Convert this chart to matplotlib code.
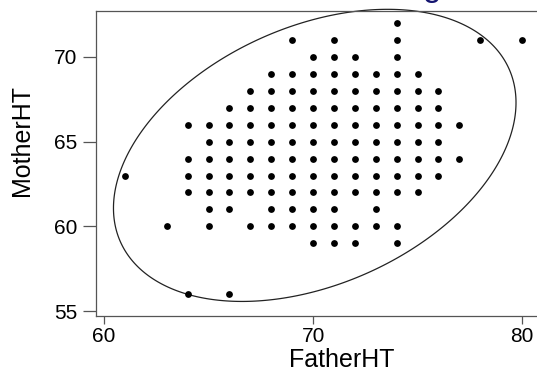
import numpy as np
import matplotlib
matplotlib.use("Agg")
import matplotlib.pyplot as plt
from matplotlib.patches import Polygon

plt.rcParams['font.family'] = ['Liberation Sans', 'DejaVu Sans']

# mother's height (inches) for each row of dots, and the fathers' heights on that row
mother_rows = [72, 71, 70, 69, 68, 67, 66, 65, 64, 63, 62, 61, 60, 59, 56]
father_by_row = [
    [74],
    [69, 71, 74, 78, 80],
    [70, 71, 72, 74],
    [68, 69, 70, 71, 72, 73, 74, 75],
    [67, 68, 69, 70, 71, 72, 73, 74, 75, 76],
    [66, 67, 68, 69, 70, 71, 72, 73, 74, 75, 76],
    [64, 65, 66, 67, 68, 69, 70, 71, 72, 73, 74, 75, 76, 77],
    [65, 66, 67, 68, 69, 70, 71, 72, 73, 74, 75, 76],
    [64, 65, 66, 67, 68, 69, 70, 71, 72, 73, 74, 75, 76, 77],
    [61, 64, 65, 66, 67, 68, 69, 70, 71, 72, 73, 74, 75, 76],
    [64, 65, 66, 67, 68, 69, 70, 71, 72, 73, 74, 75],
    [65, 66, 68, 69, 70, 71, 73],
    [63, 65, 67, 68, 69, 70, 71, 72, 73, 74],
    [70, 71, 72, 74],
    [64, 66],
]

# density ellipse: centre and covariance (father, mother)
ellipse_center = [70.08, 64.19]
ellipse_cov = [[92.7, 30.0],
               [30.0, 74.3]]

x_ticks = [60, 70, 80]
y_ticks = [55, 60, 65, 70]

father = []
mother = []
for m, row in zip(mother_rows, father_by_row):
    father.extend(row)
    mother.extend([m] * len(row))

fig = plt.figure(figsize=(5.37, 3.71), dpi=100)
ax = fig.add_axes([0.1797, 0.1482, 0.8315, 0.8221])

ax.scatter(father, mother, s=24, color='black', linewidths=0, zorder=3)

# ellipse outline from the covariance
t = np.linspace(0, 2 * np.pi, 400, endpoint=False)
L = np.linalg.cholesky(np.array(ellipse_cov))
pts = L @ np.vstack([np.cos(t), np.sin(t)])
outline = np.column_stack([pts[0] + ellipse_center[0], pts[1] + ellipse_center[1]])
ax.add_patch(Polygon(outline, closed=True, fill=False, edgecolor='#222222',
                     lw=0.9, clip_on=False, zorder=2))

ax.set_xlim(59.64, 81.0)
ax.set_ylim(54.71, 72.71)
ax.set_xticks(x_ticks)
ax.set_yticks(y_ticks)

for side in ['left', 'bottom', 'top', 'right']:
    ax.spines[side].set_color('#555555')
    ax.spines[side].set_linewidth(0.9)

ax.tick_params(axis='x', length=5.8, width=0.9, color='#555555', pad=2, labelsize=15)
ax.tick_params(axis='y', length=9.4, width=0.9, color='#555555', pad=4.5, labelsize=15)

ax.set_xlabel('FatherHT', fontsize=18)
ax.set_ylabel('MotherHT', fontsize=18)
ax.xaxis.set_label_coords(0.55, -0.105)
ax.yaxis.set_label_coords(-0.14, 0.577)

# chart title, mostly above the top edge
fig.text(432 / 537, 1.0 + 4.0 / 371, 'g', color='#141470', fontsize=24,
         ha='center', va='baseline')

fig.savefig('out.png', dpi=100)
